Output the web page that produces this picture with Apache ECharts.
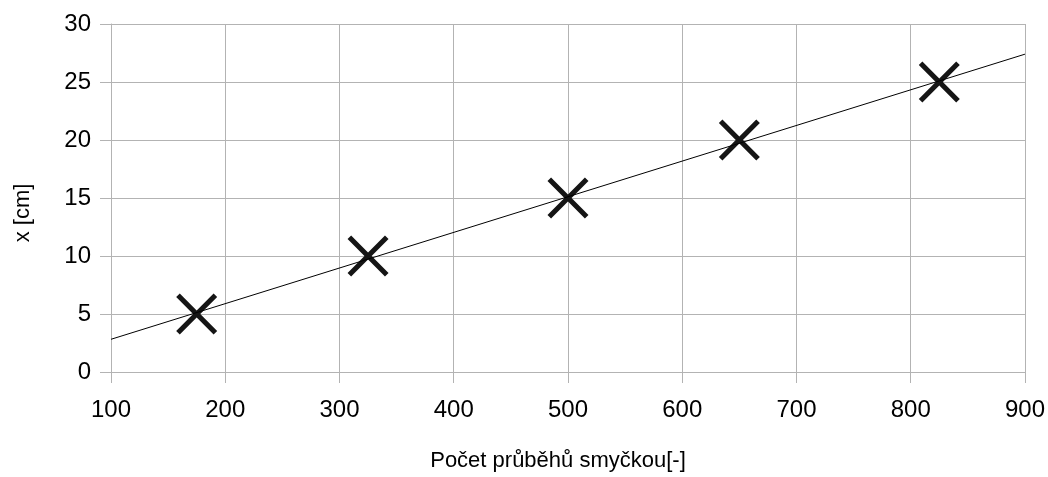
<!DOCTYPE html>
<html>
<head>
<meta charset="utf-8">
<script src="https://cdn.jsdelivr.net/npm/echarts@6/dist/echarts.min.js"></script>
<style>
html,body{margin:0;padding:0;background:#fff;}
#c{width:1048px;height:477px;}
</style>
</head>
<body>
<div id="c"></div>
<script>
const passes = [175, 325, 500, 650, 825];
const distance = [5, 10, 15, 20, 25];
const trendX = [100, 900];
const trendY = [2.82, 27.4];
const xTicks = [100, 200, 300, 400, 500, 600, 700, 800, 900];
const yTicks = [0, 5, 10, 15, 20, 25, 30];

const chart = echarts.init(document.getElementById('c'), null, {renderer: 'canvas'});
const font = 'Liberation Sans, Arial, sans-serif';
const gridColor = '#b3b3b3';
chart.setOption({
  animation: false,
  backgroundColor: '#fff',
  grid: {left: 111, right: 22, top: 24, bottom: 103},
  xAxis: {
    type: 'value', min: xTicks[0], max: xTicks[xTicks.length-1], interval: 100,
    name: 'Počet průběhů smyčkou[-]', nameLocation: 'middle', nameGap: 78,
    nameTextStyle: {fontFamily: font, fontSize: 22, color: '#000', padding: [0, 20, 0, 0]},
    axisLine: {show: true, lineStyle: {color: gridColor, width: 1}},
    axisTick: {show: true, length: 11, lineStyle: {color: gridColor}},
    axisLabel: {fontFamily: font, fontSize: 24, color: '#000', margin: 26},
    splitLine: {show: true, lineStyle: {color: gridColor, width: 1}}
  },
  yAxis: {
    type: 'value', min: yTicks[0], max: yTicks[yTicks.length-1], interval: 5,
    name: 'x [cm]', nameLocation: 'middle', nameGap: 77,
    nameTextStyle: {fontFamily: font, fontSize: 22, color: '#000', padding: [0, 30, 0, 0]},
    axisLine: {show: true, lineStyle: {color: gridColor, width: 1}},
    axisTick: {show: true, length: 11, lineStyle: {color: gridColor}},
    axisLabel: {fontFamily: font, fontSize: 24, color: '#000', margin: 20},
    splitLine: {show: true, lineStyle: {color: gridColor, width: 1}}
  },
  series: [
    {
      type: 'line',
      data: trendX.map((x, i) => [x, trendY[i]]),
      showSymbol: false,
      lineStyle: {color: '#000', width: 1},
      z: 3
    },
    {
      type: 'scatter',
      data: passes.map((x, i) => [x, distance[i]]),
      symbol: 'path://M0,3.5 L3.5,0 L20,16.5 L36.5,0 L40,3.5 L23.5,20 L40,36.5 L36.5,40 L20,23.5 L3.5,40 L0,36.5 L16.5,20 Z',
      symbolSize: 41,
      itemStyle: {color: '#151515', opacity: 1},
      z: 2
    }
  ]
});
</script>
</body>
</html>
